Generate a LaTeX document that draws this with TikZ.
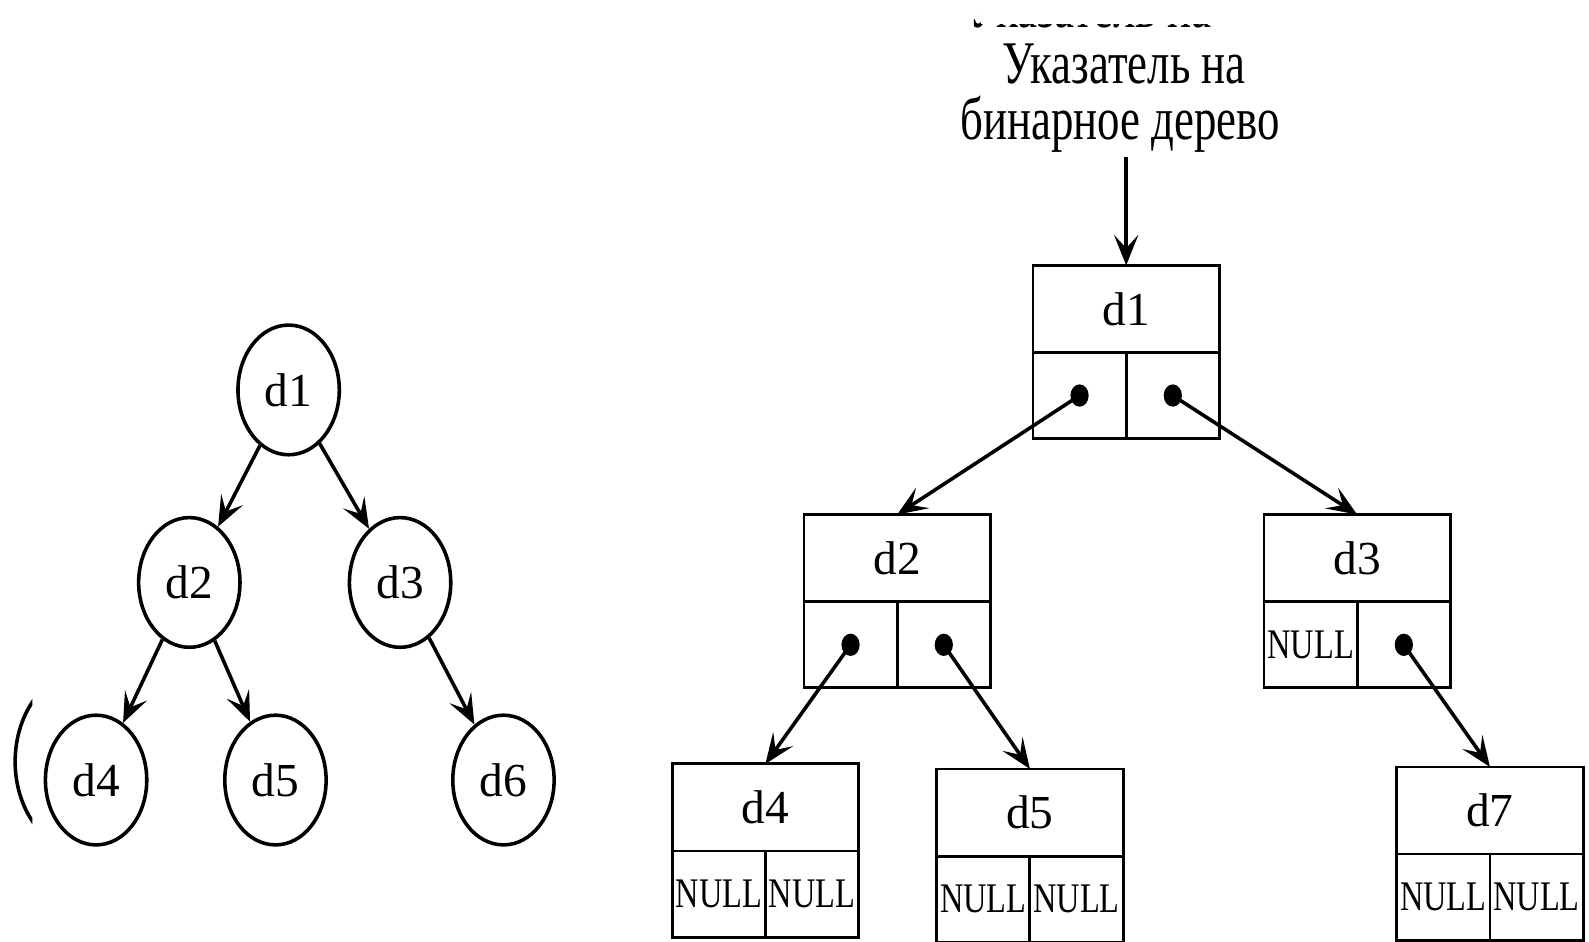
\documentclass[tikz,border=0pt]{standalone}
\usepackage{fontspec}
\setmainfont{Liberation Serif}
\usepackage{graphicx}
\usetikzlibrary{positioning, arrows.meta, shapes.geometric}
\newcommand{\vst}[1]{\scalebox{1}[1.3]{#1}}

\begin{document}
\begin{tikzpicture}[x=0.01cm, y=-0.01cm,
  >={Stealth[length=0.3cm, width=0.24cm, inset=0.13cm]},
  vert/.style={ellipse, draw, line width=1pt, minimum width=1cm, minimum height=1.28cm, inner sep=0pt, font=\fontsize{13.3}{16}\selectfont},
  head/.style={rectangle, draw, line width=0.8pt, outer sep=0pt, minimum width=1.84cm, minimum height=0.86cm, inner sep=0pt, font=\fontsize{13.3}{16}\selectfont},
  cell/.style={rectangle, draw, line width=0.8pt, outer sep=0pt, minimum width=0.92cm, minimum height=0.85cm, inner sep=0pt, font=\fontsize{9.1}{10}\selectfont},
  lbl/.style={inner sep=1pt, font=\fontsize{12.6}{16}\selectfont},
  link/.style={->, line width=1pt}]

 % left: tree
 \begin{scope}[on grid]
   \node[vert] (c1) at (285,385) {d1};
   \node[vert, below left=1.9cm and 0.98cm of c1] (c2) {d2};
   \node[vert, below right=1.9cm and 1.1cm of c1] (c3) {d3};
   \node[vert, below left=1.95cm and 0.92cm of c2] (c4) {d4};
   \node[vert, below right=1.95cm and 0.85cm of c2] (c5) {d5};
   \node[vert, below right=1.95cm and 1.02cm of c3] (c6) {d6};
 \end{scope}
 \path[link]
  (c1) edge (c2)
       edge (c3)
  (c2) edge (c4)
       edge (c5)
  (c3) edge (c6);

 % cut-off bracket
 \begin{scope}
   \clip (0,680) rectangle (32,830);
   \draw[line width=1pt] (85,752) ellipse (0.7cm and 0.9cm);
 \end{scope}

 % right: linked records
 \begin{scope}[on grid]
   \node[head] (r1) at (1112,305) {d1};
   \node[head, below left=2.46cm and 2.26cm of r1] (r2) {d2};
   \node[head, below right=2.46cm and 2.28cm of r1] (r3) {d3};
   \node[head, below left=2.46cm and 1.3cm of r2] (r4) {d4};
   \node[head, below right=2.51cm and 1.31cm of r2] (r5) {d5};
   \node[head, below right=2.49cm and 1.31cm of r3] (r7) {d7};
 \end{scope}
 \foreach \n/\a/\b in {r1/{}/{}, r2/{}/{}, r3/NULL/{}, r4/NULL/NULL, r5/NULL/NULL, r7/NULL/NULL} {
   \node[cell, anchor=north west] (\n l) at (\n.south west) {\vst{\a}};
   \node[cell, anchor=north east] (\n r) at (\n.south east) {\vst{\b}};
 }
 \foreach \c in {r1l, r1r, r2l, r2r, r3r}
   \fill (\c) ellipse (0.09cm and 0.11cm);
 \draw[link] (r1l.center) -- (r2.north);
 \draw[link] (r1r.center) -- (r3.north);
 \draw[link] (r2l.center) -- (r4.north);
 \draw[link] (r2r.center) -- (r5.north);
 \draw[link] (r3r.center) -- (r7.north);

 % pointer
 \node[lbl, anchor=base] (ptr1) at (1110,82) {\scalebox{1}[1.35]{Указатель на}};
 \node[lbl, anchor=base] (ptr2) at (1106,138) {\scalebox{1}[1.35]{бинарное дерево}};
 \draw[link] (ptr2.south -| r1.north) -- (r1.north);
 \begin{scope}
   \clip (945,8) rectangle (968,40) (968,23) rectangle (1290,40);
   \node[lbl, anchor=base] (ghost) at (1076,27.6) {\scalebox{1}[1.35]{Указатель на}};
 \end{scope}

 \pgfresetboundingbox
 \useasboundingbox (0,0) rectangle (1569,930);
\end{tikzpicture}
\end{document}
